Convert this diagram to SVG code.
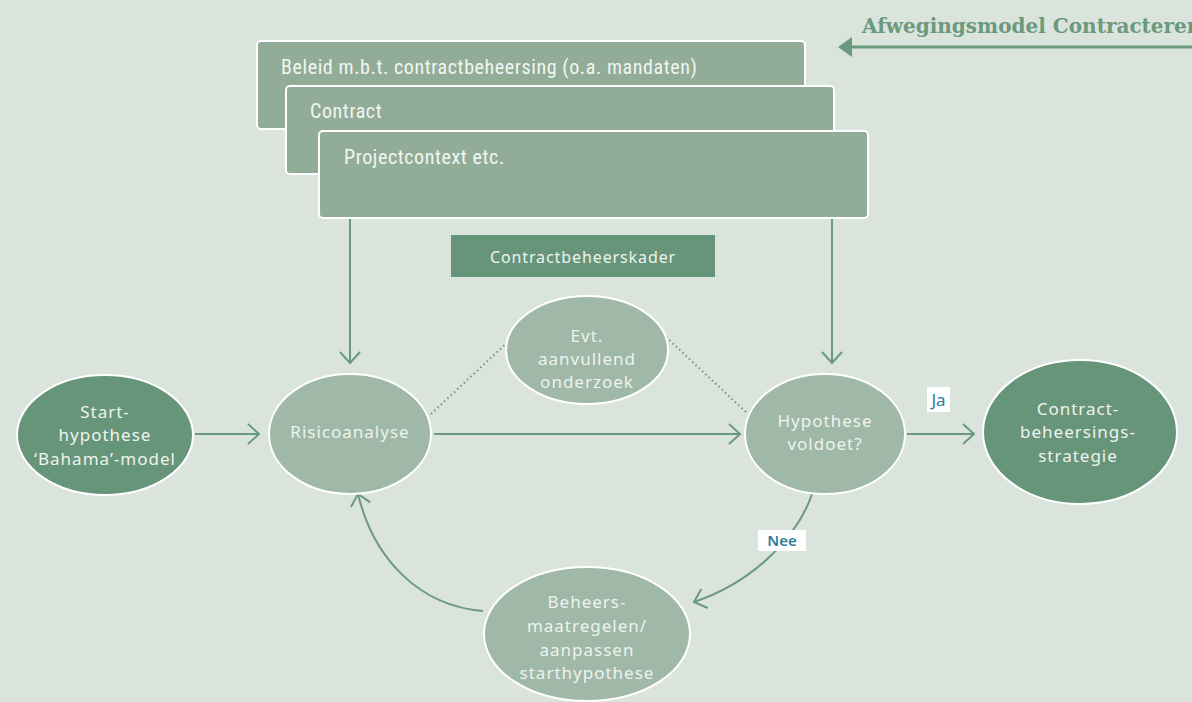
<svg xmlns="http://www.w3.org/2000/svg" width="1192" height="702" viewBox="0 0 1192 702">
<style>
.bg{fill:#dbe3dd}
.box{fill:#91ad98;stroke:#ffffff;stroke-width:2}
.dark{fill:#67957a;stroke:#ffffff;stroke-width:2}
.light{fill:#9fb8a7;stroke:#ffffff;stroke-width:2}
.bt{font-family:"Liberation Sans Narrow","Roboto Condensed",Roboto,sans-serif;font-size:20px;letter-spacing:0.6px;fill:#f2f5f2}
.et{font-family:"Noto Sans",sans-serif;font-size:17px;letter-spacing:1px;fill:#eef3ee;text-anchor:middle}
.con{fill:none;stroke:#6a9a7d;stroke-width:2}
.dot{fill:none;stroke:#6a9a7d;stroke-width:2;stroke-dasharray:1.5 3}
.lbl{font-family:"Noto Sans",sans-serif;fill:#2b7b9b;text-anchor:middle}
</style>
<defs>
<marker id="ah" markerUnits="userSpaceOnUse" markerWidth="14" markerHeight="22" refX="12" refY="11" orient="auto" viewBox="0 0 14 22">
<path d="M1,1 L12,11 L1,21" fill="none" stroke="#6a9a7d" stroke-width="2"/>
</marker>
</defs>
<rect class="bg" x="0" y="0" width="1192" height="702"/>

<g id="title">
<text x="862" y="33" font-family="'DejaVu Serif',serif" font-weight="bold" font-size="20" fill="#6a9a7d">Afwegingsmodel Contracteren</text>
<line x1="852" y1="47" x2="1192" y2="47" stroke="#6a9a7d" stroke-width="3"/>
<polygon points="838,47 852,37 852,57" fill="#6a9a7d"/>
</g>

<g id="box-beleid">
<rect class="box" x="257" y="41" width="548" height="88" rx="4"/>
<text class="bt" x="281" y="74">Beleid m.b.t. contractbeheersing (o.a. mandaten)</text>
</g>
<g id="box-contract">
<rect class="box" x="286" y="86" width="548" height="88" rx="4"/>
<text class="bt" x="310" y="118">Contract</text>
</g>
<g id="box-project">
<rect class="box" x="319" y="131" width="549" height="87" rx="4"/>
<text class="bt" x="344" y="164">Projectcontext etc.</text>
</g>

<g id="kader">
<rect x="451" y="235" width="264" height="42" fill="#67957a"/>
<text x="583" y="263" font-family="'Noto Sans',sans-serif" font-size="16" letter-spacing="0.9" fill="#eef3ee" text-anchor="middle">Contractbeheerskader</text>
</g>

<g id="connectors">
<line class="dot" x1="431" y1="414" x2="512" y2="338"/>
<line class="dot" x1="666" y1="337" x2="748" y2="414"/>
<line class="con" x1="350" y1="219" x2="350" y2="363" marker-end="url(#ah)"/>
<line class="con" x1="832" y1="219" x2="832" y2="363" marker-end="url(#ah)"/>
<line class="con" x1="195" y1="434" x2="259" y2="434" marker-end="url(#ah)"/>
<line class="con" x1="434" y1="434" x2="740" y2="434" marker-end="url(#ah)"/>
<line class="con" x1="907" y1="434" x2="974" y2="434" marker-end="url(#ah)"/>
<path class="con" d="M812,494 C800,530 760,580 694,602" marker-end="url(#ah)"/>
<path class="con" d="M483,611 C420,606 374,560 358,494" marker-end="url(#ah)"/>
</g>

<g id="start">
<ellipse class="dark" cx="105" cy="435" rx="88" ry="60"/>
<text class="et" x="105" y="418">Start-</text>
<text class="et" x="105" y="441">hypothese</text>
<text class="et" x="105" y="465">‘Bahama’-model</text>
</g>
<g id="risico">
<ellipse class="light" cx="350" cy="434" rx="81" ry="60"/>
<text class="et" x="350" y="438">Risicoanalyse</text>
</g>
<g id="evt">
<ellipse class="light" cx="587" cy="350" rx="81" ry="54"/>
<text class="et" x="587" y="342">Evt.</text>
<text class="et" x="587" y="365">aanvullend</text>
<text class="et" x="587" y="388">onderzoek</text>
</g>
<g id="hypothese">
<ellipse class="light" cx="825" cy="434" rx="80" ry="60"/>
<text class="et" x="825" y="427">Hypothese</text>
<text class="et" x="825" y="450">voldoet?</text>
</g>
<g id="strategie">
<ellipse class="dark" cx="1080" cy="432" rx="97" ry="72"/>
<text class="et" x="1078" y="415">Contract-</text>
<text class="et" x="1078" y="438">beheersings-</text>
<text class="et" x="1078" y="462">strategie</text>
</g>
<g id="beheers">
<ellipse class="light" cx="587" cy="634" rx="103" ry="67"/>
<text class="et" x="587" y="608">Beheers-</text>
<text class="et" x="587" y="632">maatregelen/</text>
<text class="et" x="587" y="656">aanpassen</text>
<text class="et" x="587" y="679">starthypothese</text>
</g>

<g id="label-ja">
<rect x="927" y="387" width="23" height="25" fill="#ffffff"/>
<text class="lbl" x="938.5" y="406" style="font-size:17px;font-weight:normal">Ja</text>
</g>
<g id="label-nee">
<rect x="758" y="530" width="48" height="21" fill="#ffffff"/>
<text class="lbl" x="782" y="546" style="font-size:15px;font-weight:600">Nee</text>
</g>
</svg>
